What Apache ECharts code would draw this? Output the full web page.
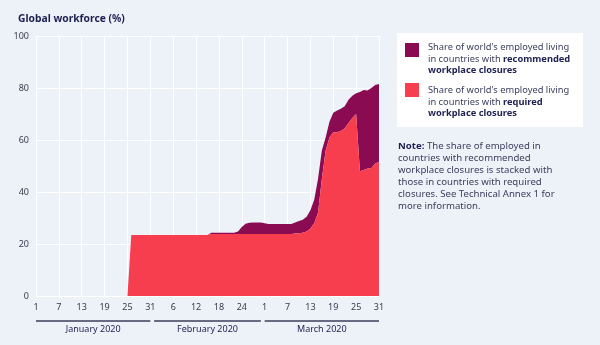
<!DOCTYPE html>
<html>
<head>
<meta charset="utf-8">
<script src="https://cdn.jsdelivr.net/npm/echarts@6/dist/echarts.min.js"></script>
<style>
html,body{margin:0;padding:0;background:#edf2f9;}
#c{width:600px;height:345px;}
</style>
</head>
<body>
<div id="c"></div>
<script>
// Categories: every day from 1 Jan 2020 to 31 Mar 2020
const monthNames = ['January 2020', 'February 2020', 'March 2020'];
const monthDays = [31, 29, 31];
const categories = [];
monthDays.forEach(function (n, m) { for (let d = 1; d <= n; d++) categories.push((m + 1) + '-' + d); });

// Share of world's employed living in countries with required workplace closures (%)
const required = [
  0,0,0,0,0,0,0,0,0,0, 0,0,0,0,0,0,0,0,0,0, 0,0,0,0,0,
  23.5,23.5,23.5,23.5,23.5,23.5,23.5,23.5,23.5,23.5,23.5,23.5,23.5,23.5,23.5,23.5,23.5,23.5,23.5,23.5,23.5,
  23.8,23.8,23.8,23.8,23.8,23.8,23.8,23.8,23.8,23.8,23.8,23.8,23.8,23.8,23.8,23.8,23.8,23.8,23.8,23.8,23.8,23.8,
  24.0,24.1,24.3,24.8,26,28,32,45,56,61,63,63,63.5,64.5,66.5,68.5,70,48,48.5,49,49.2,51,51.5
];
// Additional share with recommended workplace closures (stacked on top of required)
const recommended = [
  0,0,0,0,0,0,0,0,0,0, 0,0,0,0,0,0,0,0,0,0, 0,0,0,0,0,0,0,0,0,0, 0,0,0,0,0,0,0,0,0,0, 0,0,0,0,0,0,
  0.5,0.5,0.5,0.5,0.5,0.5,0.5,
  1.0,2.7,4.0,4.4,4.5,4.5,4.5,4.2,
  3.9,3.9,3.9,3.9,3.9,3.9,3.9,
  4.3,4.7,5.0,5.7,7,9,13,11,5,6,7.5,8.3,8.5,8.5,9,8.5,8,30.5,30.7,30,30.8,30.2,30
];
const yTicks = [0, 20, 40, 60, 80, 100];

const RED = '#f63e4f';
const DARK = '#8a0b51';
const NAVY = '#1d2050';
const TXT = '#3a3d5c';
const FONT = '"Noto Sans", "Open Sans", sans-serif';

const chart = echarts.init(document.getElementById('c'), null, {renderer: 'canvas'});

chart.setOption({
  backgroundColor: '#edf2f9',
  animation: false,
  textStyle: {fontFamily: FONT},
  title: {
    text: 'Global workforce (%)', left: 13, top: 9,
    textStyle: {fontSize: 10.3, fontWeight: 'bold', color: NAVY, fontFamily: FONT}
  },
  grid: {left: 36, right: 221, top: 36, bottom: 49, containLabel: false},
  xAxis: {
    type: 'category', data: categories, boundaryGap: false,
    axisLine: {show: false}, axisTick: {show: false},
    axisLabel: {
      interval: function (i) { return i % 6 === 0; },
      formatter: function (v) { return v.split('-')[1]; },
      fontSize: 9, color: '#3a3a4a', margin: 7, fontFamily: FONT
    },
    splitLine: {show: true, interval: function (i) { return i % 6 === 0; }, lineStyle: {color: '#ffffff', width: 1}}
  },
  yAxis: {
    type: 'value', min: yTicks[0], max: yTicks[yTicks.length - 1], interval: 20,
    axisLine: {show: false}, axisTick: {show: false},
    axisLabel: {fontSize: 9, color: '#3a3a4a', margin: 7, fontFamily: FONT},
    splitLine: {lineStyle: {color: '#ffffff', width: 1}}
  },
  series: [
    {
      name: 'required', type: 'line', stack: 'total', data: required,
      showSymbol: false, symbol: 'none', lineStyle: {width: 0}, areaStyle: {color: RED, opacity: 1}, z: 3
    },
    {
      name: 'recommended', type: 'line', stack: 'total', data: recommended,
      showSymbol: false, symbol: 'none', lineStyle: {width: 0}, areaStyle: {color: DARK, opacity: 1}, z: 2
    }
  ]
});

// Month brackets placed through the axis scale
const y0 = chart.convertToPixel({yAxisIndex: 0}, 0);
const graphics = [];
let start = 0;
monthDays.forEach(function (n, m) {
  const x1 = chart.convertToPixel({xAxisIndex: 0}, start);
  const x2 = chart.convertToPixel({xAxisIndex: 0}, start + n - 1);
  graphics.push({type: 'line', shape: {x1: x1, y1: y0 + 25, x2: x2, y2: y0 + 25},
    style: {stroke: '#3b3e58', lineWidth: 1.6}, silent: true});
  graphics.push({type: 'text', x: (x1 + x2) / 2, y: y0 + 33,
    style: {text: monthNames[m], font: '9px ' + FONT, fill: NAVY, align: 'center', verticalAlign: 'middle'}});
  start += n;
});

// Legend box
graphics.push({type: 'rect', shape: {x: 397, y: 33, width: 186, height: 94}, style: {fill: '#ffffff'}});
graphics.push({type: 'rect', shape: {x: 405, y: 43, width: 14, height: 14}, style: {fill: DARK}});
graphics.push({type: 'rect', shape: {x: 405, y: 83, width: 14, height: 14}, style: {fill: RED}});
const legRich = {
  a: {fontSize: 9.3, fill: TXT, fontFamily: FONT, lineHeight: 11.7},
  b: {fontSize: 9.3, fill: NAVY, fontFamily: FONT, fontWeight: 'bold', lineHeight: 11.7}
};
graphics.push({type: 'text', x: 428, y: 41.5, style: {
  text: "{a|Share of world's employed living}\n{a|in countries with }{b|recommended}\n{b|workplace closures}",
  rich: legRich, verticalAlign: 'top'}});
graphics.push({type: 'text', x: 428, y: 84.5, style: {
  text: "{a|Share of world's employed living}\n{a|in countries with }{b|required}\n{b|workplace closures}",
  rich: legRich, verticalAlign: 'top'}});

// Note
const noteRich = {
  a: {fontSize: 9.6, fill: TXT, fontFamily: FONT, lineHeight: 12},
  b: {fontSize: 9.6, fill: NAVY, fontFamily: FONT, fontWeight: 'bold', lineHeight: 12}
};
graphics.push({type: 'text', x: 398, y: 140.5, style: {
  text: "{b|Note:}{a| The share of employed in}\n{a|countries with recommended}\n{a|workplace closures is stacked with}\n{a|those in countries with required}\n{a|closures. See Technical Annex 1 for}\n{a|more information.}",
  rich: noteRich, verticalAlign: 'top'}});

chart.setOption({graphic: graphics});
</script>
</body>
</html>
